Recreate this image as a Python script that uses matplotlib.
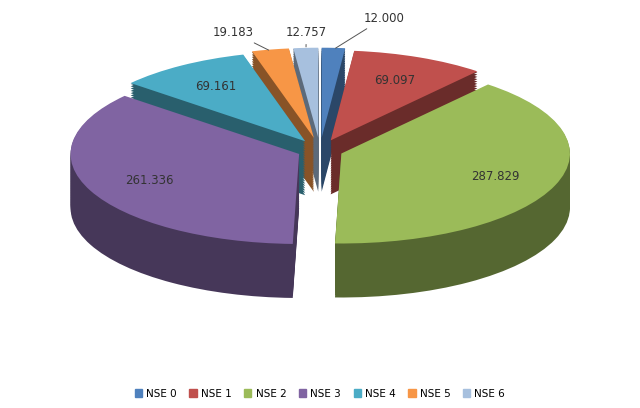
import matplotlib
matplotlib.use("Agg")
import matplotlib.pyplot as plt
import matplotlib.colors as mc
import numpy as np

categories = ["NSE 0", "NSE 1", "NSE 2", "NSE 3", "NSE 4", "NSE 5", "NSE 6"]
values = [12.000, 69.097, 287.829, 261.336, 69.161, 19.183, 12.757]
labels = ["12.000", "69.097", "287.829", "261.336", "69.161", "19.183", "12.757"]
colors = ["#4F81BD", "#C0504D", "#9BBB59", "#8064A2", "#4BACC6", "#F79646", "#A7C0DE"]
explode = [0.14, 0.12, 0.1, 0.1, 0.12, 0.14, 0.14]

fig = plt.figure(figsize=(6.4, 4.08), dpi=100)
ax = fig.add_axes([0, 0.1, 1, 0.9])

depth = 0.6
dark = [tuple(np.array(mc.to_rgb(c)) * 0.55) for c in colors]
for k in np.linspace(depth, 0.01, 24):
    ax.pie(values, colors=dark, explode=explode, startangle=90, counterclock=False,
           center=(0, -k), wedgeprops=dict(linewidth=0), frame=True)
wedges, _ = ax.pie(values, colors=colors, explode=explode, startangle=90, counterclock=False,
                   center=(0, 0), wedgeprops=dict(linewidth=0), frame=True)

ax.set_aspect("auto")
ax.set_xlim(-1.4, 1.4)
ax.set_ylim(-2.41, 1.67)
ax.axis("off")

for i, w in enumerate(wedges):
    mid = np.deg2rad((w.theta1 + w.theta2) / 2)
    cx, cy = w.center
    if i in (1, 2, 3, 4):
        r = 0.72
        ax.text(cx + r * np.cos(mid), cy + r * np.sin(mid), labels[i], ha="center",
                va="center", fontsize=8.5, color="#333333")

outside = {0: (0.28, 1.47), 6: (-0.06, 1.31), 5: (-0.38, 1.31)}
for i, (tx, ty) in outside.items():
    w = wedges[i]
    mid = np.deg2rad((w.theta1 + w.theta2) / 2)
    cx, cy = w.center
    px, py = cx + 0.98 * np.cos(mid), cy + 0.98 * np.sin(mid)
    ax.annotate(labels[i], xy=(px, py), xytext=(tx, ty), ha="center", va="center",
                fontsize=8.5, color="#333333",
                arrowprops=dict(arrowstyle="-", color="#555555", lw=0.7))

handles = [plt.Rectangle((0, 0), 1, 1, color=c) for c in colors]
fig.legend(handles, categories, loc="lower center", ncol=7, frameon=False,
           fontsize=7.5, handlelength=0.7, handleheight=0.7, columnspacing=1.2,
           handletextpad=0.4, bbox_to_anchor=(0.5, 0.0))

fig.savefig("out.png", dpi=100)
